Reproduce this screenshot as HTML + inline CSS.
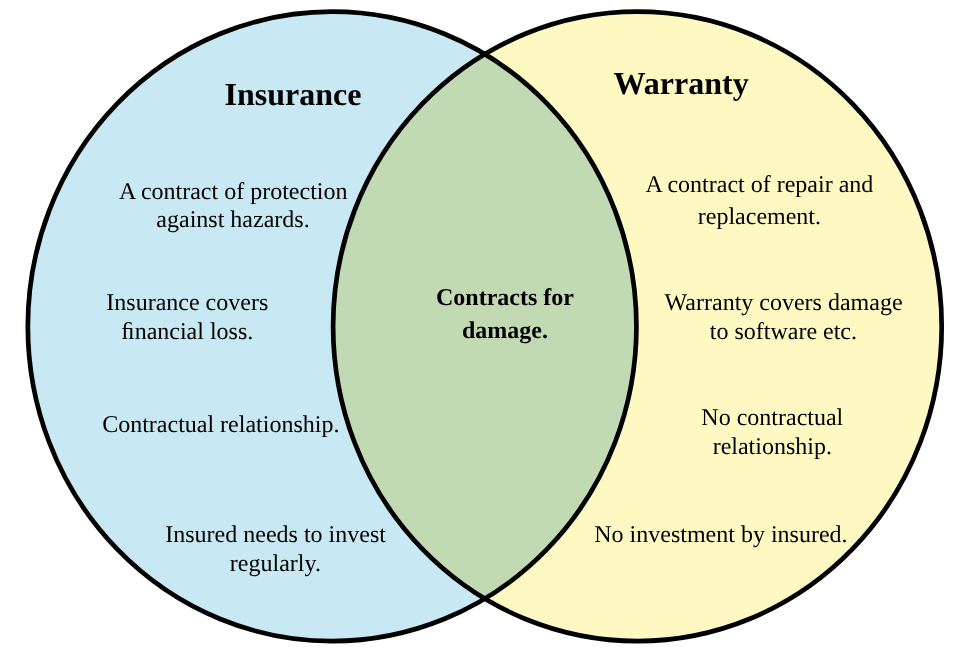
<!DOCTYPE html>
<html>
<head>
<meta charset="utf-8">
<style>
html,body{margin:0;padding:0;background:#fff;width:961px;height:651px;overflow:hidden;}
svg{display:block;will-change:transform;}
text{font-family:"Liberation Serif",serif;fill:#000;text-rendering:geometricPrecision;}
.b{font-size:24px;}
.bb{font-size:24px;font-weight:bold;}
.t{font-size:32px;font-weight:bold;}
</style>
</head>
<body>
<svg width="961" height="651" viewBox="0 0 961 651">
<defs>
<clipPath id="cl"><ellipse cx="332.14" cy="326.4" rx="304.3" ry="314.7"/></clipPath>
</defs>
<ellipse cx="332.14" cy="326.4" rx="304.3" ry="314.7" fill="#c8e8f3"/>
<ellipse cx="637.4" cy="326.4" rx="304.3" ry="314.7" fill="#fef9c3"/>
<ellipse cx="637.4" cy="326.4" rx="304.3" ry="314.7" fill="#c1dab4" clip-path="url(#cl)"/>
<ellipse cx="332.14" cy="326.4" rx="304.3" ry="314.7" fill="none" stroke="#000" stroke-width="4.7"/>
<ellipse cx="637.4" cy="326.4" rx="304.3" ry="314.7" fill="none" stroke="#000" stroke-width="4.7"/>

<text class="t" x="292.9" y="105.3" text-anchor="middle">Insurance</text>
<text class="t" x="681.1" y="94.2" text-anchor="middle">Warranty</text>

<text class="b" x="233.2" y="198.9" text-anchor="middle">A contract of protection</text>
<text class="b" x="233.0" y="227.4" text-anchor="middle">against hazards.</text>
<text class="b" x="187.3" y="309.7" text-anchor="middle">Insurance covers</text>
<text class="b" x="187.3" y="339.2" text-anchor="middle">&#xFB01;nancial loss.</text>
<text class="b" x="220.8" y="431.8" text-anchor="middle">Contractual relationship.</text>
<text class="b" x="275.6" y="542.1" text-anchor="middle">Insured needs to invest</text>
<text class="b" x="275.4" y="570.8" text-anchor="middle">regularly.</text>

<text class="bb" x="505" y="305" text-anchor="middle">Contracts for</text>
<text class="bb" x="505" y="337.9" text-anchor="middle">damage.</text>

<text class="b" x="759.4" y="191.8" text-anchor="middle">A contract of repair and</text>
<text class="b" x="759.4" y="224.4" text-anchor="middle">replacement.</text>
<text class="b" x="783.6" y="309.7" text-anchor="middle">Warranty covers damage</text>
<text class="b" x="783.4" y="339.0" text-anchor="middle">to software etc.</text>
<text class="b" x="772.3" y="424.8" text-anchor="middle">No contractual</text>
<text class="b" x="772.3" y="454.1" text-anchor="middle">relationship.</text>
<text class="b" x="720.9" y="541.7" text-anchor="middle">No investment by insured.</text>
</svg>
</body>
</html>
